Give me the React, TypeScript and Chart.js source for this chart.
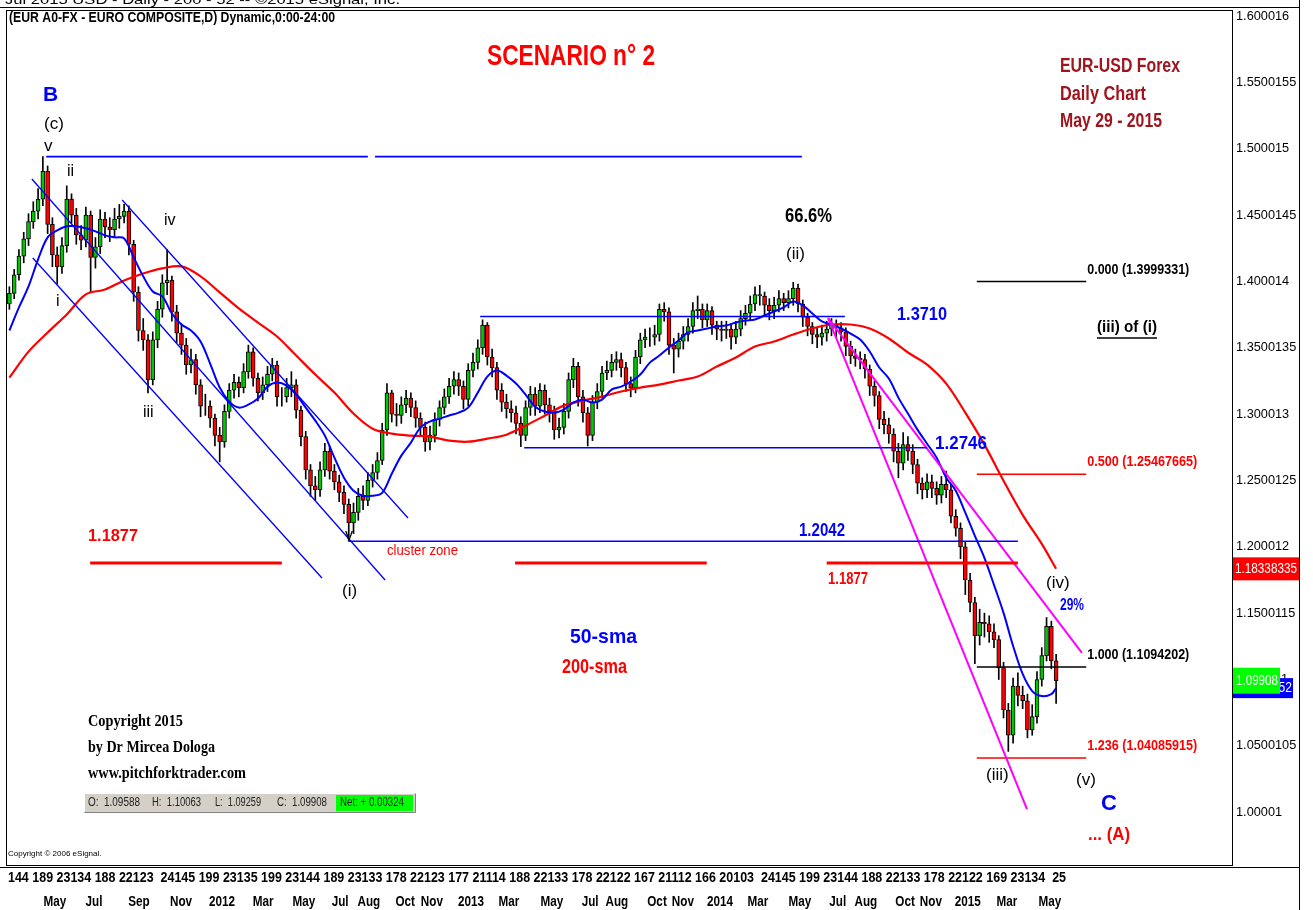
import React, { useEffect, useRef } from 'react';
import { Chart, registerables } from 'chart.js';
Chart.register(...registerables);

// ---------- DATA (weekly candles) ----------
const firstOpen = 1.383;
const closes = [
  1.391, 1.405, 1.419, 1.432, 1.445, 1.453, 1.462, 1.483, 1.443, 1.420,
  1.411, 1.427, 1.462, 1.450, 1.435, 1.431, 1.450, 1.418, 1.426, 1.447,
  1.441, 1.439, 1.447, 1.449, 1.453, 1.428, 1.392, 1.363, 1.356, 1.326,
  1.356, 1.379, 1.399, 1.401, 1.377, 1.361, 1.352, 1.337, 1.341, 1.322,
  1.306, 1.306, 1.297, 1.284, 1.279, 1.302, 1.318, 1.324, 1.320, 1.332,
  1.347, 1.327, 1.316, 1.322, 1.330, 1.337, 1.313, 1.313, 1.320, 1.322,
  1.303, 1.283, 1.258, 1.246, 1.243, 1.258, 1.272, 1.257, 1.249, 1.241,
  1.232, 1.218, 1.226, 1.238, 1.235, 1.250, 1.256, 1.265, 1.288, 1.316,
  1.300, 1.299, 1.307, 1.312, 1.305, 1.297, 1.290, 1.279, 1.284, 1.296,
  1.305, 1.313, 1.321, 1.326, 1.321, 1.311, 1.333, 1.339, 1.350, 1.367,
  1.343, 1.335, 1.318, 1.309, 1.304, 1.301, 1.293, 1.284, 1.305, 1.315,
  1.306, 1.318, 1.307, 1.302, 1.288, 1.290, 1.302, 1.326, 1.336, 1.313,
  1.301, 1.284, 1.309, 1.317, 1.331, 1.333, 1.339, 1.341, 1.335, 1.323,
  1.320, 1.343, 1.356, 1.358, 1.358, 1.360, 1.379, 1.377, 1.352, 1.349,
  1.355, 1.360, 1.366, 1.378, 1.379, 1.371, 1.378, 1.367, 1.364, 1.363,
  1.364, 1.358, 1.364, 1.372, 1.376, 1.383, 1.390, 1.389, 1.382, 1.378,
  1.382, 1.387, 1.384, 1.387, 1.395, 1.383, 1.373, 1.366, 1.360, 1.358,
  1.361, 1.364, 1.367, 1.365, 1.362, 1.351, 1.344, 1.342, 1.341, 1.334,
  1.321, 1.314, 1.296, 1.292, 1.285, 1.272, 1.263, 1.277, 1.272, 1.262,
  1.248, 1.243, 1.249, 1.244, 1.239, 1.247, 1.243, 1.223, 1.214, 1.200,
  1.175, 1.158, 1.133, 1.143, 1.142, 1.136, 1.130, 1.109, 1.077, 1.058,
  1.095, 1.088, 1.084, 1.062, 1.072, 1.100, 1.118, 1.140, 1.114, 1.0991,
];
const highs = [
  1.396, 1.409, 1.424, 1.437, 1.451, 1.460, 1.470, 1.494, 1.487, 1.448,
  1.426, 1.433, 1.472, 1.466, 1.455, 1.442, 1.456, 1.453, 1.433, 1.454,
  1.452, 1.448, 1.455, 1.458, 1.458, 1.457, 1.431, 1.396, 1.372, 1.360,
  1.362, 1.385, 1.405, 1.424, 1.404, 1.382, 1.368, 1.357, 1.349, 1.345,
  1.326, 1.315, 1.310, 1.300, 1.290, 1.307, 1.323, 1.330, 1.328, 1.338,
  1.352, 1.350, 1.331, 1.328, 1.336, 1.342, 1.340, 1.320, 1.327, 1.332,
  1.326, 1.306, 1.287, 1.262, 1.253, 1.264, 1.278, 1.276, 1.262, 1.254,
  1.246, 1.236, 1.233, 1.244, 1.246, 1.256, 1.262, 1.271, 1.293, 1.323,
  1.318, 1.308, 1.313, 1.318, 1.316, 1.310, 1.301, 1.294, 1.291, 1.301,
  1.310, 1.319, 1.327, 1.332, 1.331, 1.325, 1.338, 1.346, 1.356, 1.371,
  1.369, 1.349, 1.339, 1.323, 1.315, 1.310, 1.306, 1.298, 1.310, 1.321,
  1.320, 1.323, 1.322, 1.312, 1.306, 1.297, 1.308, 1.331, 1.342, 1.339,
  1.318, 1.305, 1.314, 1.323, 1.336, 1.340, 1.345, 1.347, 1.346, 1.339,
  1.328, 1.348, 1.361, 1.364, 1.365, 1.367, 1.383, 1.384, 1.380, 1.357,
  1.361, 1.366, 1.372, 1.384, 1.389, 1.383, 1.383, 1.381, 1.370, 1.370,
  1.370, 1.368, 1.370, 1.378, 1.382, 1.389, 1.396, 1.397, 1.392, 1.387,
  1.388, 1.393, 1.391, 1.393, 1.3993, 1.398, 1.386, 1.376, 1.369, 1.365,
  1.367, 1.370, 1.372, 1.371, 1.369, 1.365, 1.355, 1.349, 1.347, 1.345,
  1.337, 1.325, 1.317, 1.302, 1.297, 1.289, 1.278, 1.286, 1.283, 1.277,
  1.266, 1.252, 1.255, 1.254, 1.249, 1.253, 1.257, 1.247, 1.228, 1.218,
  1.204, 1.180, 1.162, 1.153, 1.150, 1.148, 1.142, 1.133, 1.113, 1.082,
  1.101, 1.105, 1.095, 1.089, 1.081, 1.106, 1.124, 1.1467, 1.144, 1.119,
];
const lows = [
  1.379, 1.387, 1.401, 1.414, 1.427, 1.440, 1.447, 1.457, 1.436, 1.411,
  1.398, 1.406, 1.422, 1.444, 1.428, 1.424, 1.426, 1.392, 1.410, 1.421,
  1.433, 1.430, 1.433, 1.440, 1.444, 1.420, 1.385, 1.355, 1.348, 1.316,
  1.322, 1.350, 1.373, 1.390, 1.370, 1.354, 1.345, 1.330, 1.331, 1.315,
  1.298, 1.299, 1.290, 1.276, 1.264, 1.275, 1.297, 1.312, 1.313, 1.316,
  1.327, 1.321, 1.310, 1.311, 1.317, 1.325, 1.306, 1.306, 1.309, 1.313,
  1.297, 1.276, 1.251, 1.238, 1.235, 1.238, 1.253, 1.251, 1.243, 1.234,
  1.225, 1.2042, 1.210, 1.220, 1.228, 1.231, 1.245, 1.251, 1.262, 1.284,
  1.294, 1.291, 1.293, 1.301, 1.298, 1.290, 1.283, 1.272, 1.273, 1.279,
  1.291, 1.300, 1.308, 1.315, 1.314, 1.304, 1.306, 1.328, 1.334, 1.345,
  1.337, 1.328, 1.311, 1.302, 1.297, 1.294, 1.285, 1.2755, 1.280, 1.299,
  1.299, 1.301, 1.300, 1.294, 1.281, 1.282, 1.285, 1.297, 1.320, 1.306,
  1.294, 1.276, 1.280, 1.304, 1.312, 1.326, 1.328, 1.333, 1.328, 1.317,
  1.313, 1.316, 1.338, 1.350, 1.351, 1.352, 1.355, 1.370, 1.345, 1.331,
  1.343, 1.349, 1.355, 1.361, 1.372, 1.365, 1.366, 1.360, 1.356, 1.355,
  1.357, 1.349, 1.353, 1.359, 1.367, 1.371, 1.378, 1.382, 1.375, 1.371,
  1.372, 1.377, 1.378, 1.380, 1.382, 1.377, 1.366, 1.359, 1.353, 1.350,
  1.352, 1.355, 1.359, 1.358, 1.355, 1.344, 1.338, 1.336, 1.334, 1.327,
  1.314, 1.306, 1.289, 1.285, 1.278, 1.264, 1.252, 1.258, 1.265, 1.255,
  1.240, 1.236, 1.237, 1.237, 1.232, 1.233, 1.237, 1.218, 1.208, 1.191,
  1.164, 1.151, 1.112, 1.126, 1.132, 1.128, 1.124, 1.100, 1.071, 1.0458,
  1.052, 1.080, 1.078, 1.056, 1.058, 1.067, 1.095, 1.114, 1.108, 1.082,
];

// 50-sma (blue) and 200-sma (red), sampled at week indices
const sma50Weeks = [
  0, 2, 4, 6, 8, 10, 12, 14, 16, 18, 20, 22, 24, 26, 28, 30, 32, 34, 36, 38,
  40, 42, 44, 46, 48, 50, 52, 54, 56, 58, 60, 62, 64, 66, 68, 70, 72, 74, 76, 78,
  80, 82, 84, 86, 88, 90, 92, 94, 96, 98, 100, 102, 104, 106, 108, 110, 112, 114, 116, 118,
  120, 122, 124, 126, 128, 130, 132, 134, 136, 138, 140, 142, 144, 146, 148, 150, 152, 154, 156, 158,
  160, 162, 164, 166, 168, 170, 172, 174, 176, 178, 180, 182, 184, 186, 188, 190, 192, 194, 196, 198,
  200, 202, 204, 206, 208, 210, 212, 214, 216, 218, 219,
];
const sma50 = [
  1.3630, 1.3804, 1.3962, 1.4166, 1.4332, 1.4385, 1.4415, 1.4415, 1.4400, 1.4377,
  1.4347, 1.4332, 1.4324, 1.4181, 1.4038, 1.3924, 1.3887, 1.3758, 1.3675, 1.3630,
  1.3547, 1.3381, 1.3200, 1.3094, 1.3049, 1.3071, 1.3117, 1.3207, 1.3238, 1.3215,
  1.3147, 1.3049, 1.2951, 1.2838, 1.2672, 1.2521, 1.2423, 1.2385, 1.2385, 1.2407,
  1.2551, 1.2687, 1.2785, 1.2898, 1.2944, 1.2966, 1.2989, 1.3011, 1.3049, 1.3162,
  1.3283, 1.3328, 1.3290, 1.3230, 1.3147, 1.3056, 1.3019, 1.3011, 1.3034, 1.3087,
  1.3109, 1.3087, 1.3109, 1.3185, 1.3207, 1.3245, 1.3298, 1.3388, 1.3441, 1.3502,
  1.3555, 1.3615, 1.3630, 1.3645, 1.3660, 1.3668, 1.3690, 1.3705, 1.3713, 1.3743,
  1.3773, 1.3804, 1.3849, 1.3819, 1.3758, 1.3698, 1.3675, 1.3645, 1.3607, 1.3562,
  1.3472, 1.3351, 1.3268, 1.3124, 1.3004, 1.2883, 1.2777, 1.2672, 1.2521, 1.2423,
  1.2257, 1.2083, 1.1917, 1.1713, 1.1502, 1.1253, 1.1042, 1.0913, 1.0875, 1.0890, 1.0935,
];
const sma200Weeks = [
  0, 4, 8, 12, 16, 20, 24, 28, 32, 36, 40, 44, 48, 52, 56, 60, 64, 68, 72, 76,
  80, 84, 88, 92, 96, 100, 104, 108, 112, 116, 120, 124, 128, 132, 136, 140, 144, 148, 152, 156,
  160, 164, 168, 172, 176, 180, 184, 188, 192, 196, 200, 204, 208, 212, 216, 219,
];
const sma200 = [
  1.3275, 1.3471, 1.3615, 1.3751, 1.3902, 1.3939, 1.4007, 1.4060, 1.4098, 1.4113,
  1.4038, 1.3917, 1.3796, 1.3690, 1.3585, 1.3441, 1.3298, 1.3162, 1.3004, 1.2890,
  1.2853, 1.2838, 1.2830, 1.2800, 1.2792, 1.2815, 1.2845, 1.2913, 1.2988, 1.3064,
  1.3102, 1.3132, 1.3170, 1.3200, 1.3222, 1.3253, 1.3283, 1.3358, 1.3426, 1.3509,
  1.3547, 1.3600, 1.3645, 1.3675, 1.3675, 1.3645, 1.3570, 1.3464, 1.3373, 1.3230,
  1.3011, 1.2770, 1.2498, 1.2241, 1.2022, 1.1834,
];

// price axis ticks
const yTickValues = [1.0, 1.05, 1.1, 1.15, 1.2, 1.25, 1.3, 1.35, 1.4, 1.45, 1.5, 1.55, 1.6];
const yTickLabels = ['1.00001', '1.0500105', '1.100011', '1.1500115', '1.200012', '1.2500125', '1.300013', '1.3500135', '1.400014', '1.4500145', '1.500015', '1.5500155', '1.600016'];

// time axis
const dayRow = '144 189 23134 188 22123  24145 199 23135 199 23144 189 23133 178 22123 177 21114 188 22133 178 22122 167 21112 166 20103  24145 199 23144 188 22133 178 22122 169 23134  25';
const monthLabels = ['May', 'Jul', 'Sep', 'Nov', '2012', 'Mar', 'May', 'Jul', 'Aug', 'Oct', 'Nov', '2013', 'Mar', 'May', 'Jul', 'Aug', 'Oct', 'Nov', '2014', 'Mar', 'May', 'Jul', 'Aug', 'Oct', 'Nov', '2015', 'Mar', 'May'];
const monthWeeks = [9.5, 17.7, 27.1, 35.9, 44.5, 53.1, 61.6, 69.2, 75.2, 82.8, 88.4, 96.6, 104.5, 113.5, 121.5, 127.1, 135.5, 140.9, 148.7, 156.6, 165.4, 173.3, 179.2, 187.4, 192.8, 200.5, 208.7, 217.7];

// drawn levels: [startWeek, startPrice, endWeek, endPrice]
const blueLevels = [
  [7.7, 1.494, 75.0, 1.494],
  [76.5, 1.494, 165.8, 1.494],
  [98.5, 1.3735, 174.8, 1.3735],
  [107.7, 1.2746, 192.0, 1.2746],
  [71.0, 1.2042, 211.0, 1.2042],
];
const redLevels = [
  [16.9, 1.1877, 57.0, 1.1877],
  [105.8, 1.1877, 145.9, 1.1877],
  [171.0, 1.1877, 211.0, 1.1877],
];
const channelLines = [
  [4.7, 1.4772, 78.6, 1.1750],
  [4.9, 1.4176, 65.4, 1.1765],
  [23.6, 1.4613, 83.4, 1.2217],
];
const magentaLines = [
  [171.3, 1.3724, 212.9, 1.0024],
  [171.3, 1.3724, 224.4, 1.1200],
];
const fibLevels = [1.3999331, 1.25467665, 1.1094202, 1.04085915];
const fibRatios = ['0.000', '0.500', '1.000', '1.236'];
const fibRange = [202.4, 225.3];

const lastClose = 1.09908;
const lastSma200 = 1.18338335;
const lastSma50 = 1.0935;

const SANS = '"Liberation Sans", Arial, sans-serif';
const SERIF = '"Liberation Serif", "Times New Roman", serif';
const BLUE = '#0000FF';
const RED = '#FF0000';

function fit(ctx: CanvasRenderingContext2D, text: string, x: number, y: number, width: number, font: string, color: string, align: 'left' | 'center' = 'left', sx0 = 1) {
  ctx.save();
  ctx.font = font;
  ctx.fillStyle = color;
  ctx.textBaseline = 'middle';
  ctx.textAlign = 'left';
  const w = ctx.measureText(text).width;
  const sx = width ? width / w : sx0;
  const ww = w * sx;
  const left = align === 'center' ? x - ww / 2 : x;
  ctx.translate(left, y);
  ctx.scale(sx, 1);
  ctx.fillText(text, 0, 0);
  ctx.restore();
}

const segDataset = (s: number[], color: string, width: number) => ({
  type: 'line',
  data: [{ x: s[0], y: s[1] }, { x: s[2], y: s[3] }],
  borderColor: color,
  borderWidth: width,
  pointRadius: 0,
  fill: false,
  order: 0,
});

export default function App() {
  const ref = useRef<HTMLCanvasElement>(null);
  useEffect(() => {
    document.body.style.margin = '0';
    const canvas = ref.current!;
    const opens = closes.map((c, i) => (i === 0 ? firstOpen : closes[i - 1]));
    const bodyColors = closes.map((c, i) => (c >= opens[i] ? '#00C800' : '#FF0000'));

    const deco = {
      id: 'deco',
      beforeDraw(chart: any) {
        const c = chart.ctx;
        c.save();
        c.fillStyle = '#fff';
        c.fillRect(0, 0, chart.width, chart.height);
        c.restore();
      },
      afterDraw(chart: any) {
        const c: CanvasRenderingContext2D = chart.ctx;
        const { left, right, top, bottom } = chart.chartArea;
        const xs = chart.scales.x;
        const ys = chart.scales.y;
        c.save();
        c.strokeStyle = '#000';
        c.lineWidth = 1;
        c.strokeRect(left + 0.5, top + 0.5, right - left, bottom - top);
        c.beginPath();
        c.moveTo(0, top - 2.5); c.lineTo(1300, top - 2.5);
        c.moveTo(1299.5, 0); c.lineTo(1299.5, 910);
        c.moveTo(0, bottom + 2.5); c.lineTo(1300, bottom + 2.5);
        c.stroke();
        c.restore();

        fit(c, 'Jul 2015 USD - Daily - 200 - 52 -- ©2015 eSignal, Inc.', 5, 0, 395, `13px ${SANS}`, '#000');
        fit(c, '(EUR A0-FX - EURO COMPOSITE,D) Dynamic,0:00-24:00', 9, 18, 326, `bold 14px ${SANS}`, '#000');

        yTickValues.forEach((v, i) => {
          fit(c, yTickLabels[i], 1236, ys.getPixelForValue(v), 0, `13px ${SANS}`, '#000', 'left', 0.98);
        });
        const yr = ys.getPixelForValue(lastSma200);
        c.fillStyle = RED; c.fillRect(1233, yr - 11.5, 66, 23);
        fit(c, String(lastSma200), 1235, yr, 62, `14px ${SANS}`, '#fff');
        const yb = ys.getPixelForValue(lastSma50);
        c.fillStyle = BLUE; c.fillRect(1233, yb - 10, 60, 20);
        fit(c, '1.0935552', 1235, yb, 57, `14px ${SANS}`, '#fff');
        const yg = ys.getPixelForValue(lastClose);
        c.fillStyle = '#00FF00'; c.fillRect(1233, yg - 13, 47, 26);
        fit(c, '1.09908', 1236, yg, 42, `14px ${SANS}`, '#fff');

        fit(c, dayRow, 8, 878, 1058, `bold 15px ${SANS}`, '#000');
        monthLabels.forEach((m, i) => {
          fit(c, m, xs.getPixelForValue(monthWeeks[i]), 902, 0, `bold 15px ${SANS}`, '#000', 'center', 0.78);
        });

        fibLevels.forEach((lv, i) => {
          const col = i === 1 || i === 3 ? RED : '#000';
          const txt = `${fibRatios[i]} (${lv})`;
          fit(c, txt, xs.getPixelForValue(fibRange[1]) + 1, ys.getPixelForValue(lv) - 12, txt.length > 17 ? 110 : 102, `bold 15px ${SANS}`, col);
        });

        const T: [string, number, number, number, string, string][] = [
          ['SCENARIO n° 2', 487, 57, 168, `bold 30px ${SANS}`, RED],
          ['EUR-USD Forex', 1060, 66, 120, `bold 20px ${SANS}`, '#A0141E'],
          ['Daily Chart', 1060, 94, 86, `bold 20px ${SANS}`, '#A0141E'],
          ['May 29 - 2015', 1060, 121, 102, `bold 20px ${SANS}`, '#A0141E'],
          ['B', 43, 95, 0, `bold 21px ${SANS}`, BLUE],
          ['(c)', 44, 124, 0, `17px ${SANS}`, '#000'],
          ['v', 44, 146, 0, `17px ${SANS}`, '#000'],
          ['ii', 67, 172, 0, `16px ${SANS}`, '#000'],
          ['iv', 164, 221, 0, `16px ${SANS}`, '#000'],
          ['i', 56, 302, 0, `16px ${SANS}`, '#000'],
          ['iii', 143, 413, 0, `16px ${SANS}`, '#000'],
          ['v', 345, 536, 0, `16px ${SANS}`, '#000'],
          ['(i)', 342, 591, 0, `17px ${SANS}`, '#000'],
          ['66.6%', 785, 216, 47, `bold 21px ${SANS}`, '#000'],
          ['(ii)', 786, 254, 0, `17px ${SANS}`, '#000'],
          ['1.3710', 897, 315, 50, `bold 18px ${SANS}`, BLUE],
          ['(iii) of (i)', 1097, 327, 60, `bold 17px ${SANS}`, '#000'],
          ['1.2746', 935, 444, 52, `bold 18px ${SANS}`, BLUE],
          ['1.2042', 799, 531, 46, `bold 18px ${SANS}`, BLUE],
          ['1.1877', 88, 537, 50, `bold 16px ${SANS}`, RED],
          ['cluster zone', 387, 551, 71, `15px ${SANS}`, RED],
          ['1.1877', 828, 580, 40, `bold 16px ${SANS}`, RED],
          ['(iv)', 1046, 583, 0, `17px ${SANS}`, '#000'],
          ['29%', 1060, 606, 24, `bold 16px ${SANS}`, BLUE],
          ['50-sma', 570, 637, 67, `bold 21px ${SANS}`, BLUE],
          ['200-sma', 562, 667, 65, `bold 21px ${SANS}`, RED],
          ['(iii)', 986, 775, 0, `17px ${SANS}`, '#000'],
          ['(v)', 1076, 780, 0, `17px ${SANS}`, '#000'],
          ['C', 1101, 804, 0, `bold 22px ${SANS}`, BLUE],
          ['... (A)', 1088, 835, 42, `bold 19px ${SANS}`, RED],
          ['Copyright 2015', 88, 722, 95, `bold 17px ${SERIF}`, '#000'],
          ['by Dr Mircea Dologa', 88, 748, 127, `bold 17px ${SERIF}`, '#000'],
          ['www.pitchforktrader.com', 88, 774, 158, `bold 17px ${SERIF}`, '#000'],
          ['Copyright © 2006 eSignal.', 8, 854, 0, `8px ${SANS}`, '#000'],
        ];
        T.forEach((t) => fit(c, t[0], t[1], t[2], t[3], t[4], t[5]));
        c.save();
        c.strokeStyle = '#000'; c.lineWidth = 1.5;
        c.beginPath(); c.moveTo(1097, 338); c.lineTo(1157, 338); c.stroke();
        c.restore();

        c.save();
        c.fillStyle = '#D4D0C8'; c.fillRect(84, 793, 331, 19);
        c.strokeStyle = '#FFFFFF'; c.beginPath(); c.moveTo(84.5, 811.5); c.lineTo(84.5, 793.5); c.lineTo(414.5, 793.5); c.stroke();
        c.strokeStyle = '#808080'; c.beginPath(); c.moveTo(84.5, 812.5); c.lineTo(415.5, 812.5); c.lineTo(415.5, 793.5); c.stroke();
        c.fillStyle = '#00FF00'; c.fillRect(336, 795, 77, 16);
        c.restore();
        fit(c, 'O:  1.09588', 88, 803, 52, `12px ${SANS}`, '#222');
        fit(c, 'H:  1.10063', 152, 803, 49, `12px ${SANS}`, '#222');
        fit(c, 'L:  1.09259', 215, 803, 46, `12px ${SANS}`, '#222');
        fit(c, 'C:  1.09908', 277, 803, 50, `12px ${SANS}`, '#222');
        fit(c, 'Net: + 0.00324', 340, 803, 64, `12px ${SANS}`, '#222');
      },
    };

    const datasets: any[] = [
      ...blueLevels.map((s) => segDataset(s, BLUE, 1.6)),
      ...redLevels.map((s) => segDataset(s, RED, 3)),
      ...channelLines.map((s) => segDataset(s, BLUE, 1.3)),
      ...magentaLines.map((s) => segDataset(s, '#FF00FF', 2)),
      ...fibLevels.map((lv, i) => segDataset([fibRange[0], lv, fibRange[1], lv], i === 1 || i === 3 ? RED : '#000', 1.5)),
      {
        type: 'line',
        data: sma50Weeks.map((w, i) => ({ x: w, y: sma50[i] })),
        borderColor: BLUE, borderWidth: 2, pointRadius: 0, tension: 0.35, fill: false, order: 1,
      },
      {
        type: 'line',
        data: sma200Weeks.map((w, i) => ({ x: w, y: sma200[i] })),
        borderColor: RED, borderWidth: 2.2, pointRadius: 0, tension: 0.35, fill: false, order: 1,
      },
      {
        type: 'bar',
        data: closes.map((c, i) => ({ x: i, y: [opens[i], c] })),
        backgroundColor: bodyColors, borderColor: '#000', borderWidth: 1, borderSkipped: false,
        barThickness: 4, grouped: false, order: 2,
      },
      {
        type: 'bar',
        data: closes.map((c, i) => ({ x: i, y: [lows[i], highs[i]] })),
        backgroundColor: '#000', borderWidth: 0, barThickness: 1, grouped: false, order: 3,
      },
    ];

    const chart = new Chart(canvas, {
      type: 'bar',
      data: { datasets },
      options: {
        animation: false,
        responsive: false,
        devicePixelRatio: 1,
        events: [],
        layout: { padding: { left: 6, top: 10, right: 81, bottom: 45 } },
        plugins: { legend: { display: false }, tooltip: { enabled: false } },
        scales: {
          x: { type: 'linear', min: -0.71, max: 255.8, display: false, offset: false },
          y: { type: 'linear', min: 0.96021, max: 1.60452, display: false },
        },
      },
      plugins: [deco],
    } as any);
    return () => chart.destroy();
  }, []);
  return <canvas ref={ref} width={1313} height={910} style={{ display: 'block' }} />;
}
